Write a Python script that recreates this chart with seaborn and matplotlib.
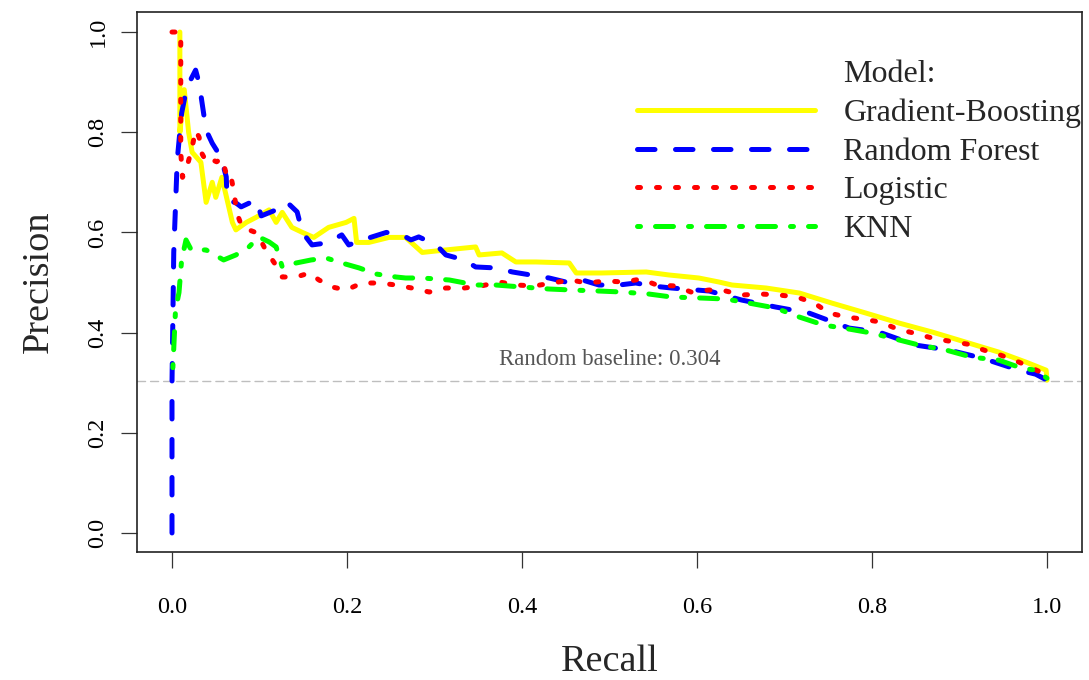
import matplotlib
matplotlib.use("Agg")
import matplotlib.pyplot as plt
from matplotlib.lines import Line2D
import seaborn as sns
import pandas as pd

# ---------------- data ----------------
models = ["Gradient-Boosting", "Random Forest", "Logistic", "KNN"]
colors = ["#FFFF00", "#0000FF", "#FF0000", "#00FF00"]

gb_recall = [0.009, 0.009, 0.014, 0.019, 0.023, 0.033, 0.039, 0.046, 0.050, 0.057, 0.065, 0.069,
             0.073, 0.085, 0.096, 0.111, 0.119, 0.126, 0.137, 0.149, 0.162, 0.179, 0.199, 0.208,
             0.211, 0.225, 0.248, 0.267, 0.286, 0.313, 0.347, 0.351, 0.377, 0.393, 0.416, 0.454,
             0.462, 0.491, 0.542, 0.568, 0.602, 0.625, 0.640, 0.679, 0.717, 0.754, 0.793, 0.831,
             0.869, 0.907, 0.945, 0.976, 0.999, 1.000]
gb_precision = [1.000, 0.800, 0.885, 0.800, 0.760, 0.740, 0.660, 0.700, 0.670, 0.710, 0.650, 0.620,
                0.605, 0.620, 0.630, 0.645, 0.620, 0.640, 0.610, 0.600, 0.590, 0.610, 0.620, 0.628,
                0.580, 0.580, 0.590, 0.590, 0.560, 0.565, 0.571, 0.555, 0.559, 0.541, 0.541, 0.539,
                0.519, 0.519, 0.521, 0.515, 0.509, 0.501, 0.495, 0.489, 0.479, 0.459, 0.439, 0.419,
                0.401, 0.381, 0.361, 0.341, 0.325, 0.305]

rf_recall = [0.000, 0.000, 0.002, 0.006, 0.011, 0.017, 0.027, 0.031, 0.039, 0.046, 0.056, 0.062,
             0.063, 0.073, 0.079, 0.096, 0.102, 0.119, 0.131, 0.143, 0.149, 0.160, 0.177, 0.194,
             0.202, 0.225, 0.245, 0.263, 0.273, 0.282, 0.302, 0.313, 0.334, 0.347, 0.371, 0.389,
             0.410, 0.431, 0.450, 0.469, 0.488, 0.511, 0.530, 0.549, 0.571, 0.614, 0.651, 0.690,
             0.728, 0.774, 0.808, 0.850, 0.888, 0.926, 0.968, 0.987, 1.000]
rf_precision = [0.000, 0.300, 0.560, 0.745, 0.838, 0.890, 0.924, 0.898, 0.804, 0.778, 0.750, 0.711,
                0.665, 0.659, 0.651, 0.665, 0.633, 0.645, 0.661, 0.641, 0.600, 0.575, 0.579, 0.595,
                0.575, 0.589, 0.600, 0.595, 0.585, 0.591, 0.575, 0.555, 0.545, 0.531, 0.529, 0.521,
                0.515, 0.509, 0.501, 0.505, 0.495, 0.495, 0.499, 0.493, 0.489, 0.483, 0.465, 0.451,
                0.439, 0.409, 0.401, 0.375, 0.365, 0.349, 0.325, 0.317, 0.305]

lr_recall = [0.000, 0.010, 0.010, 0.012, 0.017, 0.023, 0.027, 0.031, 0.034, 0.040, 0.046, 0.051,
             0.057, 0.063, 0.067, 0.071, 0.074, 0.080, 0.088, 0.097, 0.107, 0.117, 0.126, 0.142,
             0.157, 0.168, 0.183, 0.199, 0.217, 0.237, 0.256, 0.274, 0.294, 0.313, 0.334, 0.353,
             0.374, 0.394, 0.414, 0.434, 0.456, 0.474, 0.496, 0.517, 0.536, 0.554, 0.576, 0.593,
             0.614, 0.633, 0.651, 0.673, 0.694, 0.714, 0.734, 0.751, 0.771, 0.789, 0.810, 0.829,
             0.848, 0.869, 0.888, 0.909, 0.928, 0.947, 0.968, 0.983, 1.000]
lr_precision = [1.000, 1.000, 0.760, 0.710, 0.730, 0.770, 0.804, 0.790, 0.758, 0.739, 0.745, 0.741,
                0.748, 0.711, 0.715, 0.679, 0.639, 0.611, 0.605, 0.599, 0.565, 0.539, 0.511, 0.511,
                0.519, 0.505, 0.491, 0.485, 0.499, 0.499, 0.495, 0.489, 0.481, 0.489, 0.489, 0.493,
                0.501, 0.495, 0.493, 0.499, 0.505, 0.499, 0.503, 0.501, 0.507, 0.495, 0.493, 0.481,
                0.485, 0.483, 0.475, 0.477, 0.475, 0.471, 0.459, 0.439, 0.431, 0.427, 0.421, 0.407,
                0.399, 0.389, 0.383, 0.377, 0.365, 0.355, 0.341, 0.329, 0.315]

knn_recall = [0.001, 0.004, 0.008, 0.011, 0.016, 0.022, 0.039, 0.059, 0.073, 0.088, 0.099, 0.111,
              0.119, 0.126, 0.142, 0.159, 0.176, 0.194, 0.214, 0.233, 0.256, 0.267, 0.286, 0.317,
              0.347, 0.370, 0.400, 0.431, 0.457, 0.488, 0.514, 0.545, 0.571, 0.605, 0.633, 0.659,
              0.690, 0.717, 0.745, 0.774, 0.800, 0.827, 0.854, 0.885, 0.914, 0.945, 0.971, 0.987,
              1.000]
knn_precision = [0.330, 0.445, 0.480, 0.545, 0.585, 0.565, 0.565, 0.545, 0.555, 0.571, 0.591, 0.581,
                 0.571, 0.531, 0.539, 0.545, 0.549, 0.539, 0.529, 0.517, 0.511, 0.509, 0.509, 0.505,
                 0.495, 0.495, 0.491, 0.487, 0.485, 0.483, 0.481, 0.477, 0.471, 0.469, 0.467, 0.459,
                 0.449, 0.431, 0.415, 0.407, 0.399, 0.387, 0.375, 0.365, 0.351, 0.345, 0.329, 0.325,
                 0.309]

baseline = 0.304
x_ticks = [0.0, 0.2, 0.4, 0.6, 0.8, 1.0]
x_tick_labels = ["0.0", "0.2", "0.4", "0.6", "0.8", "1.0"]
y_ticks = [0.0, 0.2, 0.4, 0.6, 0.8, 1.0]
y_tick_labels = ["0.0", "0.2", "0.4", "0.6", "0.8", "1.0"]

# ---------------- build long-form table ----------------
frames = []
for name, rx, py in [(models[0], gb_recall, gb_precision),
                     (models[1], rf_recall, rf_precision),
                     (models[2], lr_recall, lr_precision),
                     (models[3], knn_recall, knn_precision)]:
    frames.append(pd.DataFrame({"Recall": rx, "Precision": py, "Model": name}))
df = pd.concat(frames, ignore_index=True)

# ---------------- style ----------------
sns.set_style("white")
plt.rcParams["font.family"] = ["Liberation Serif", "DejaVu Serif"]
plt.rcParams["lines.dash_capstyle"] = "round"
plt.rcParams["lines.solid_capstyle"] = "round"
plt.rcParams["lines.solid_joinstyle"] = "round"
plt.rcParams["lines.dash_joinstyle"] = "round"

palette = dict(zip(models, colors))
dash_map = {
    "Gradient-Boosting": "",
    "Random Forest": (3.5, 4.1),
    "Logistic": (0.6, 3.2),
    "KNN": (0.6, 3.0, 3.6, 3.0),
}
LW = 3.6

fig = plt.figure(figsize=(10.89, 6.8), dpi=100)
ax = fig.add_axes([137 / 1089, 128 / 680, 945 / 1089, 540 / 680])

sns.lineplot(data=df, x="Recall", y="Precision", hue="Model", style="Model",
             hue_order=models, style_order=models, palette=palette, dashes=dash_map,
             estimator=None, sort=False, units="Model", linewidth=LW, legend=False, ax=ax)

ax.axhline(baseline, color="#BEBEBE", lw=1.0, linestyle=(0, (5.8, 3.6)), zorder=0.5)
ax.text(0.5, 0.335, f"Random baseline: {baseline:.3f}", ha="center", va="baseline",
        fontsize=16.5, color="#555555")

ax.set_xlim(-0.04, 1.04)
ax.set_ylim(-0.038, 1.04)
ax.set_xticks(x_ticks)
ax.set_xticklabels(x_tick_labels)
ax.set_yticks(y_ticks)
ax.set_yticklabels(y_tick_labels, rotation=90, va="center")
ax.tick_params(axis="both", direction="out", length=11.5, width=0.9, color="#333333",
               labelsize=17.5, labelcolor="black", left=True, bottom=True)
ax.tick_params(axis="x", pad=21)
ax.tick_params(axis="y", pad=9)
for s in ax.spines.values():
    s.set_visible(True)
    s.set_color("#222222")
    s.set_linewidth(1.2)

ax.set_xlabel("Recall", fontsize=27.5, labelpad=19)
ax.set_ylabel("Precision", fontsize=27.5, labelpad=23)

# ---------------- legend (no frame, title row aligned with labels) ----------------
handles = [Line2D([], [], color="none", lw=0)]
labels = ["Model:"]
for m, c in zip(models, colors):
    ls = "-" if dash_map[m] == "" else (0, dash_map[m])
    handles.append(Line2D([], [], color=c, lw=LW, linestyle=ls,
                          dash_capstyle="round", solid_capstyle="round"))
    labels.append(m)
leg = fig.legend(handles, labels, loc="upper left", bbox_to_anchor=(637 / 1089, 1 - 60 / 680),
                 frameon=False, fontsize=23, handlelength=5.58, handletextpad=0.88,
                 labelspacing=0.29, borderpad=0, borderaxespad=0)

fig.savefig("out.png", dpi=100)
